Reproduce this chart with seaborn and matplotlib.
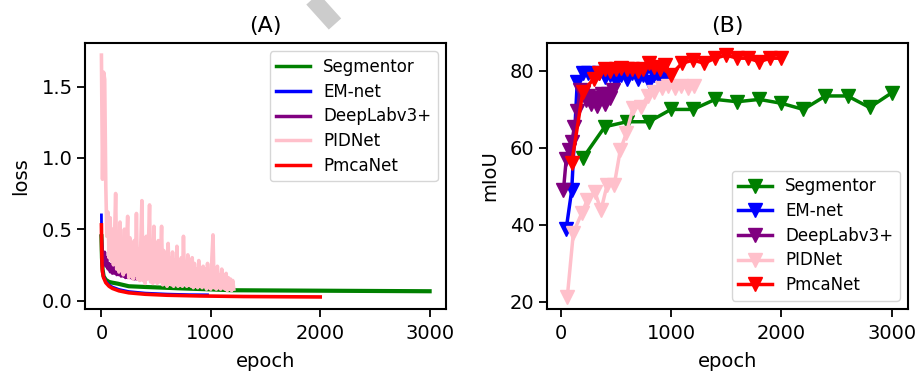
import numpy as np
import pandas as pd
import matplotlib
matplotlib.use("Agg")
import matplotlib.pyplot as plt
from matplotlib.lines import Line2D
import seaborn as sns

# ---------------- data: panel A (loss) ----------------
seg_loss_epoch = [0, 5, 10, 20, 40, 70, 100, 150, 250, 400, 500, 700, 1000, 1200, 1700, 2200, 3000]
seg_loss = [0.45, 0.30, 0.22, 0.17, 0.145, 0.13, 0.125, 0.118, 0.10, 0.095, 0.092, 0.086, 0.078, 0.072, 0.070, 0.068, 0.065]

em_loss_epoch = [0, 3, 6, 10, 20, 40, 70, 100, 160, 250, 400, 600, 800, 970]
em_loss = [0.60, 0.38, 0.27, 0.21, 0.17, 0.135, 0.11, 0.095, 0.078, 0.063, 0.052, 0.045, 0.041, 0.040]

deeplab_loss = [0.45, 0.33, 0.28, 0.34, 0.24, 0.30, 0.22, 0.26, 0.20, 0.25,
                0.19, 0.27, 0.19, 0.23, 0.18, 0.21, 0.18, 0.20, 0.17, 0.19,
                0.17, 0.18, 0.16, 0.19, 0.16, 0.17, 0.16, 0.17, 0.155, 0.165,
                0.15, 0.16, 0.15, 0.155]

pid_loss = [1.72, 0.85, 1.60, 1.55, 0.80, 0.45, 0.62, 0.30, 0.58, 0.28,
            0.50, 0.25, 0.45, 0.75, 0.22, 0.48, 0.20, 0.55, 0.22, 0.42,
            0.18, 0.50, 0.20, 0.40, 0.59, 0.16, 0.44, 0.18, 0.38, 0.15,
            0.42, 0.18, 0.61, 0.15, 0.36, 0.14, 0.40, 0.70, 0.14, 0.35,
            0.12, 0.45, 0.15, 0.40, 0.67, 0.13, 0.38, 0.12, 0.52, 0.14,
            0.33, 0.12, 0.42, 0.13, 0.30, 0.52, 0.11, 0.35, 0.12, 0.28,
            0.10, 0.40, 0.12, 0.30, 0.11, 0.34, 0.10, 0.28, 0.12, 0.38,
            0.10, 0.26, 0.11, 0.30, 0.10, 0.45, 0.12, 0.25, 0.10, 0.32,
            0.11, 0.24, 0.10, 0.30, 0.09, 0.26, 0.10, 0.22, 0.09, 0.28,
            0.10, 0.20, 0.09, 0.24, 0.10, 0.22, 0.08, 0.26, 0.09, 0.20,
            0.08, 0.30, 0.46, 0.09, 0.20, 0.08, 0.24, 0.09, 0.18, 0.08,
            0.22, 0.09, 0.17, 0.08, 0.19, 0.07, 0.16, 0.08, 0.15, 0.07,
            0.14, 0.08]

pmca_loss_epoch = [0, 3, 6, 10, 20, 40, 70, 100, 160, 250, 400, 600, 900, 1300, 2000]
pmca_loss = [0.53, 0.35, 0.25, 0.20, 0.16, 0.125, 0.10, 0.085, 0.068, 0.054, 0.044, 0.037, 0.032, 0.028, 0.025]

# ---------------- data: panel B (mIoU) ----------------
seg_miou_epoch = [200, 400, 600, 800, 1000, 1200, 1400, 1600, 1800, 2000, 2200, 2400, 2600, 2800, 3000]
seg_miou = [57.3, 65.5, 66.8, 66.8, 70.0, 70.0, 72.6, 72.0, 72.6, 71.6, 70.0, 73.5, 73.5, 70.5, 74.3]

em_miou_epoch = [50, 100, 150, 200, 250, 300, 350, 400, 450, 500, 550, 600, 650, 700, 750, 800, 850, 900, 950]
em_miou = [39.0, 49.0, 77.0, 79.5, 79.5, 79.0, 79.5, 78.5, 79.0, 77.5, 79.0, 78.0, 79.5, 78.0, 79.0, 77.0, 79.0, 78.0, 78.5]

deeplab_miou_epoch = [25, 50, 75, 100, 125, 150, 175, 200, 225, 250, 275, 300, 325, 350, 375, 400, 425, 450, 475]
deeplab_miou = [49.0, 57.0, 59.5, 61.5, 65.5, 69.5, 75.0, 74.5, 72.5, 73.5, 71.5, 73.0, 71.0, 72.5, 74.0, 71.5, 74.0, 73.0, 75.0]

pid_miou_epoch = [60, 115, 190, 240, 310, 365, 420, 485, 540, 595, 655, 730, 790, 850,
                  915, 975, 1035, 1095, 1155, 1210]
pid_miou = [21.3, 38.0, 43.0, 46.4, 48.6, 43.8, 50.3, 50.3, 59.4, 63.8, 70.3, 70.7, 73.5, 74.5,
            75.5, 76.0, 75.5, 76.0, 75.5, 76.0]

pmca_miou_epoch = [100, 200, 300, 350, 400, 450, 500, 550, 600, 650, 700, 750, 800, 850, 900, 950,
                   1000, 1100, 1200, 1300, 1400, 1500, 1600, 1700, 1800, 1900, 2000]
pmca_miou = [56.0, 74.5, 78.0, 79.5, 80.5, 80.0, 80.5, 80.8, 80.5, 80.5, 80.0, 80.5, 82.0, 81.0, 80.5, 81.5,
             79.0, 82.0, 82.8, 82.0, 83.3, 84.1, 83.3, 83.3, 82.4, 83.3, 83.3]

names = ["Segmentor", "EM-net", "DeepLabv3+", "PIDNet", "PmcaNet"]
colors = ["green", "blue", "purple", "pink", "red"]

# ---------------- figure ----------------
plt.rcParams.update({
    "font.family": ["DejaVu Sans"],
    "font.size": 14,
    "axes.linewidth": 1.5,
    "xtick.major.size": 5.5,
    "ytick.major.size": 5.5,
    "xtick.major.width": 1.3,
    "ytick.major.width": 1.3,
    "xtick.major.pad": 5,
    "legend.labelspacing": 0.4,
})

fig = plt.figure(figsize=(9.2, 3.71), dpi=100)
axA = fig.add_axes([0.0924, 0.167, 0.3924, 0.717])
axB = fig.add_axes([0.5946, 0.167, 0.3924, 0.717])

loss_sets = [
    (seg_loss_epoch, seg_loss, 3.0),
    (em_loss_epoch, em_loss, 2.0),
    (list(np.arange(len(deeplab_loss)) * 10), deeplab_loss, 2.2),
    (list(np.arange(len(pid_loss)) * 10), pid_loss, 2.6),
    (pmca_loss_epoch, pmca_loss, 2.6),
]
for (ep, val, lw), name, col in zip(loss_sets, names, colors):
    df = pd.DataFrame({"epoch": ep, "loss": val})
    sns.lineplot(data=df, x="epoch", y="loss", ax=axA, color=col, label=name,
                 linewidth=lw, estimator=None)

axA.set_title("(A)", fontsize=16, pad=8)
axA.set_xlabel("epoch", labelpad=7)
axA.set_ylabel("loss", labelpad=8)
axA.set_xticks([0, 1000, 2000, 3000])
axA.set_yticks([0.0, 0.5, 1.0, 1.5])
axA.legend(loc="upper right", fontsize=12)
for h in axA.get_legend().get_lines():
    h.set_linewidth(2.5)

miou_sets = [
    (seg_miou_epoch, seg_miou),
    (em_miou_epoch, em_miou),
    (deeplab_miou_epoch, deeplab_miou),
    (pid_miou_epoch, pid_miou),
    (pmca_miou_epoch, pmca_miou),
]
for (ep, val), name, col in zip(miou_sets, names, colors):
    df = pd.DataFrame({"epoch": ep, "mIoU": val})
    sns.lineplot(data=df, x="epoch", y="mIoU", ax=axB, color=col, label=name,
                 linewidth=2.5, marker="v", markersize=10.5, markeredgecolor=col,
                 markerfacecolor=col, markeredgewidth=1, estimator=None)

axB.set_title("(B)", fontsize=16, pad=8)
axB.set_xlabel("epoch", labelpad=7)
axB.set_ylabel("mIoU", labelpad=8)
axB.set_xticks([0, 1000, 2000, 3000])
axB.set_yticks([20, 40, 60, 80])
axB.legend(loc="lower right", fontsize=12)

# faint watermark stroke at the top
fig.add_artist(Line2D([308 / 920, 335 / 920], [1 + 6 / 371, 1 - 24 / 371],
                      transform=fig.transFigure, color="#cccccc", linewidth=12,
                      solid_capstyle="butt"))

fig.savefig("out.png", dpi=100)
